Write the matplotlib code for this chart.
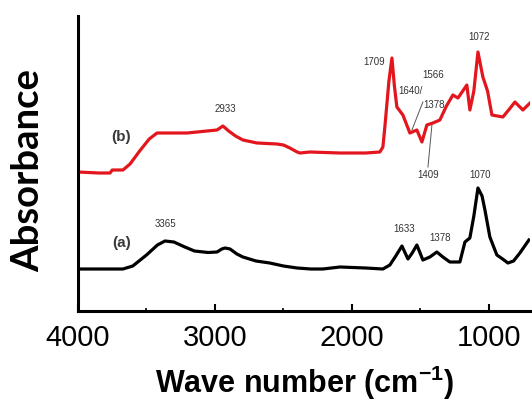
import matplotlib
matplotlib.use('Agg')
import matplotlib.pyplot as plt
import numpy as np

matplotlib.rcParams.update({
    'font.family': 'Liberation Sans',
    'mathtext.fontset': 'custom',
    'mathtext.rm': 'Liberation Sans',
    'mathtext.bf': 'Liberation Sans:bold',
})

# spectrum (a) (wave number, absorbance a.u.)
wn_a = [4000, 3672, 3600, 3500, 3420, 3365, 3300, 3220, 3150, 3050, 2985, 2950,
        2927, 2890, 2840, 2796, 2700, 2600, 2500, 2400, 2300, 2212, 2088, 1900,
        1774, 1723, 1680, 1635, 1591, 1560, 1526, 1482, 1431, 1380, 1336, 1285,
        1212, 1175, 1139, 1110, 1080, 1050, 1029, 993, 942, 900, 861, 820, 774, 708]
abs_a = [0.42, 0.42, 0.45, 0.56, 0.66, 0.70, 0.69, 0.64, 0.60, 0.585, 0.59, 0.62,
         0.63, 0.62, 0.57, 0.54, 0.50, 0.48, 0.45, 0.43, 0.42, 0.42, 0.44, 0.43,
         0.42, 0.46, 0.55, 0.65, 0.52, 0.58, 0.66, 0.51, 0.54, 0.59, 0.54, 0.49,
         0.49, 0.69, 0.73, 0.95, 1.23, 1.15, 1.01, 0.74, 0.56, 0.52, 0.48, 0.50,
         0.58, 0.71]

# spectrum (b)
wn_b = [4000, 3850, 3766, 3750, 3672, 3620, 3550, 3480, 3423, 3204, 2985, 2942,
        2900, 2850, 2796, 2693, 2547, 2500, 2453, 2400, 2380, 2307, 2088, 1900,
        1796, 1774, 1759, 1730, 1708, 1690, 1672, 1628, 1577, 1526, 1489, 1453,
        1409, 1358, 1310, 1263, 1226, 1161, 1139, 1110, 1080, 1044, 1010, 978,
        898, 850, 810, 752, 700]
abs_b = [1.39, 1.38, 1.38, 1.41, 1.41, 1.47, 1.60, 1.72, 1.78, 1.78, 1.81, 1.85,
         1.80, 1.75, 1.71, 1.68, 1.67, 1.66, 1.63, 1.59, 1.58, 1.59, 1.58, 1.58,
         1.59, 1.64, 1.85, 2.30, 2.53, 2.25, 2.04, 1.96, 1.78, 1.81, 1.69, 1.86,
         1.88, 1.91, 2.05, 2.16, 2.13, 2.26, 2.01, 2.20, 2.59, 2.34, 2.20, 1.96,
         1.94, 2.02, 2.09, 2.01, 2.08]

# peak labels: (text, x, y)
labels_a = [('3365', 3358, 0.87), ('1633', 1620, 0.82), ('1378', 1358, 0.73),
            ('1070', 1066, 1.36)]
labels_b = [('2933', 2927, 2.02), ('1709', 1840, 2.49), ('1072', 1072, 2.74),
            ('1566', 1410, 2.36), ('1640/', 1569, 2.20), ('1378', 1400, 2.06),
            ('1409', 1445, 1.36)]

fig = plt.figure(figsize=(5.32, 4.12), dpi=100)
ax = fig.add_axes([78 / 532, 101 / 412, 452 / 532, 295 / 412])

ax.plot(wn_a, abs_a, color='black', lw=2.3, solid_joinstyle='round')
ax.plot(wn_b, abs_b, color='#e3161d', lw=2.3, solid_joinstyle='round')

ax.set_xlim(4000, 700)
ax.set_ylim(0, 2.95)

for txt, x, y in labels_a + labels_b:
    ax.text(x, y, txt, fontsize=7, color='#333333', ha='center', va='center')

# leader lines
ax.plot([1482, 1562], [2.09, 1.81], color='#555555', lw=0.7)
ax.plot([1416, 1445], [1.86, 1.44], color='#555555', lw=0.7)

ax.text(3685, 1.74, '(b)', fontsize=11, fontweight='bold', color='#3a3a3a',
        ha='center', va='center')
ax.text(3680, 0.68, '(a)', fontsize=11, fontweight='bold', color='#3a3a3a',
        ha='center', va='center')

for s in ['top', 'right']:
    ax.spines[s].set_visible(False)
for s in ['left', 'bottom']:
    ax.spines[s].set_linewidth(2.2)

ax.set_yticks([])
ax.set_xticks([4000, 3000, 2000, 1000])
ax.set_xticks([3500, 2500, 1500], minor=True)
ax.tick_params(axis='x', which='major', direction='in', length=5, width=1.5,
               labelsize=21, pad=9.5)
ax.tick_params(axis='x', which='minor', direction='in', length=2.5, width=1.2)

ax.set_xlabel('Wave number (cm$^{\\mathbf{-1}}$)', fontsize=22,
              fontweight='bold', labelpad=8)
fig.text(28 / 532, 1 - 170 / 412, 'Absorbance', rotation=90, fontsize=27.5,
         fontweight='bold', family='Lato', ha='center', va='center')

fig.savefig('out.png', dpi=100)
